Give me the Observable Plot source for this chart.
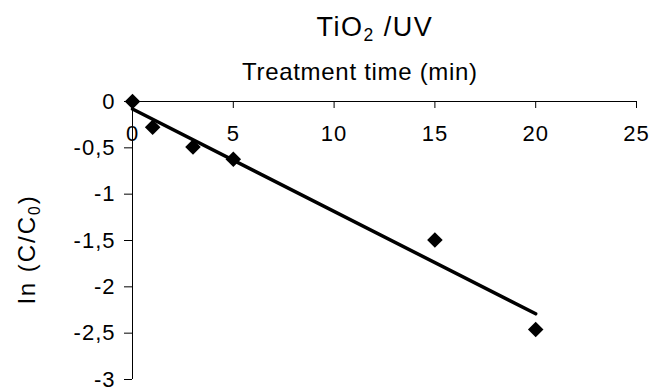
<!DOCTYPE html>
<html>
<head>
<meta charset="utf-8">
<script src="https://cdn.jsdelivr.net/npm/d3@7"></script>
<script src="https://cdn.jsdelivr.net/npm/@observablehq/plot@0.6"></script>
<style>
  html, body { margin: 0; padding: 0; background: #fff; }
  #wrap { position: relative; width: 652px; height: 392px; font-family: "Liberation Sans", Arial, sans-serif; color: #000; }
  #wrap svg { position: absolute; left: 0; top: 0; }
  .lbl { position: absolute; white-space: nowrap; line-height: 1; }
  sub { font-size: 65%; vertical-align: baseline; position: relative; top: 0.3em; }
</style>
</head>
<body>
<div id="wrap">
  <div class="lbl" id="title" style="font-size:27px; letter-spacing:1.5px;">TiO<sub>2</sub> /UV</div>
  <div class="lbl" id="xlabel" style="font-size:24px; letter-spacing:0.7px;">Treatment time (min)</div>
  <div class="lbl" id="ylabel" style="font-size:24px; letter-spacing:2px;">ln (C/C<sub>0</sub>)</div>
</div>
<script>
const timeMin = [0, 1, 3, 5, 15, 20];
const lnRatio = [0, -0.278, -0.49, -0.624, -1.495, -2.46];
const xTicks = [0, 5, 10, 15, 20, 25];
const yTicks = [0, -0.5, -1, -1.5, -2, -2.5, -3];

const data = timeMin.map((t, i) => ({t, v: lnRatio[i]}));
const fmt = d => String(d).replace(".", ",");

const chart = Plot.plot({
  width: 652,
  height: 392,
  marginLeft: 132,
  marginRight: 16,
  marginTop: 101,
  marginBottom: 13,
  style: {fontFamily: "'Liberation Sans', Arial, sans-serif", fontSize: "22px", letterSpacing: "1px", color: "#000", background: "transparent"},
  x: {domain: [0, 25]},
  y: {domain: [-3, 0]},
  marks: [
    Plot.ruleY([0], {stroke: "#000", strokeWidth: 1}),
    Plot.axisY({anchor: "left", ticks: yTicks, tickFormat: fmt, tickSize: 8, tickPadding: 9, label: null, fontSize: 22}),
    Plot.ruleX([0], {stroke: "#000", strokeWidth: 1}),
    Plot.axisX({anchor: "bottom", frameAnchor: "top", ticks: xTicks, tickFormat: fmt, tickSize: 7, tickPadding: 17, label: null, fontSize: 22}),
    Plot.linearRegressionY(data, {x: "t", y: "v", ci: 0, stroke: "#000", strokeWidth: 3.5}),
    Plot.dot(data, {x: "t", y: "v", symbol: "diamond2", r: 7, fill: "#000", stroke: null})
  ]
});
document.getElementById("wrap").prepend(chart);

function place(id, cx, cy, rot) {
  const el = document.getElementById(id);
  const w = el.offsetWidth, h = el.offsetHeight;
  el.style.left = (cx - w / 2) + "px";
  el.style.top = (cy - h / 2) + "px";
  if (rot) el.style.transform = `rotate(${rot}deg)`;
}
place("title", 375, 27);
place("xlabel", 360, 72);
place("ylabel", 26, 249, -90);
</script>
</body>
</html>
